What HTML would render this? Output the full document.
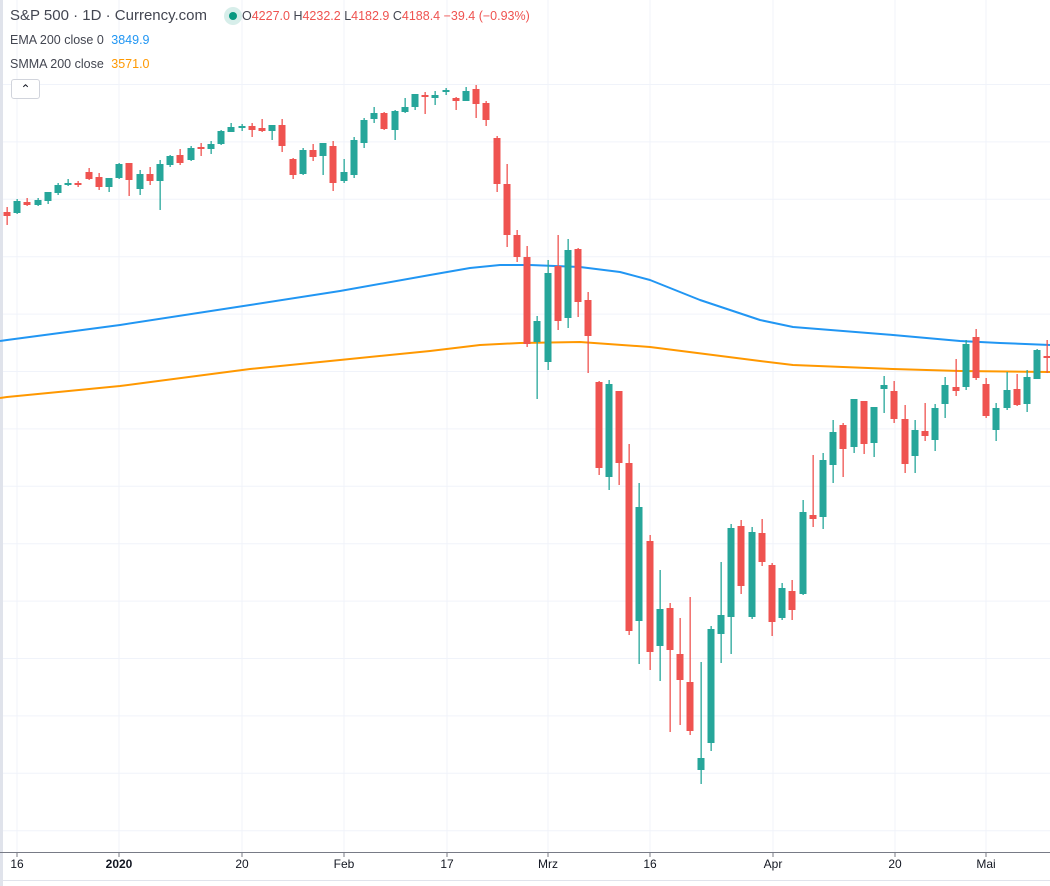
<!DOCTYPE html>
<html><head><meta charset="utf-8">
<style>
html,body{margin:0;padding:0;background:#fff;}
body{width:1050px;height:886px;overflow:hidden;position:relative;font-family:"Liberation Sans",sans-serif;}
svg{position:absolute;left:0;top:0;}
.t{position:absolute;white-space:nowrap;color:#434651;}
</style></head><body>
<svg id="s" width="1050" height="886" xmlns="http://www.w3.org/2000/svg"></svg>
<div class="t" style="left:10px;top:7px;font-size:15px;color:#434651">S&amp;P 500 · 1D · Currency.com</div>
<div style="position:absolute;left:224px;top:7px;width:18px;height:18px;border-radius:50%;background:#d7eeea"></div>
<div style="position:absolute;left:229px;top:12px;width:8px;height:8px;border-radius:50%;background:#089981"></div>
<div class="t" style="left:242px;top:9px;font-size:12.5px;color:#ef5350"><span style="color:#434651">O</span>4227.0 <span style="color:#434651">H</span>4232.2 <span style="color:#434651">L</span>4182.9 <span style="color:#434651">C</span>4188.4 −39.4 (−0.93%)</div>
<div class="t" style="left:10px;top:33px;font-size:12.5px">EMA 200 close 0 <span style="color:#2196f3;margin-left:4px">3849.9</span></div>
<div class="t" style="left:10px;top:57px;font-size:12.5px">SMMA 200 close <span style="color:#ff9800;margin-left:4px">3571.0</span></div>
<div style="position:absolute;left:11px;top:79px;width:27px;height:18px;border:1px solid #d1d4dc;border-radius:3px;background:#fff;text-align:center;font-size:12px;line-height:18px;color:#131722">&#8963;</div>
<script>
var s=document.getElementById('s'),h='';
h+='<rect x="0" y="0" width="3" height="886" fill="#e0e3eb"/>';
for(var y=84.5;y<852;y+=57.4)h+='<line x1="3" x2="1050" y1="'+y.toFixed(1)+'" y2="'+y.toFixed(1)+'" stroke="#f0f3fa" stroke-width="1"/>';
var xs=[17,119,242,344,447,548,650,773,895,986],lb=['16','2020','20','Feb','17','Mrz','16','Apr','20','Mai'];
for(var i=0;i<xs.length;i++){h+='<line x1="'+xs[i]+'" x2="'+xs[i]+'" y1="0" y2="852" stroke="#f0f3fa"/>';
h+='<line x1="'+xs[i]+'" x2="'+xs[i]+'" y1="852" y2="857" stroke="#787b86"/>';
h+='<text x="'+xs[i]+'" y="868" font-size="12" text-anchor="middle" fill="#131722" font-family="Liberation Sans,sans-serif"'+(i==1?' font-weight="bold"':'')+'>'+lb[i]+'</text>';}
h+='<line x1="0" x2="1050" y1="852.5" y2="852.5" stroke="#787b86"/>';
h+='<line x1="0" x2="1050" y1="880.5" y2="880.5" stroke="#e0e3eb"/>';
var ema=[[0,341],[7,340],[120,325],[250,305],[340,291],[430,275],[470,268],[500,265],[530,265],[580,267],[620,272],[650,280],[700,300],[760,320],[793,327],[893,335],[960,341],[1000,343],[1050,345]];
var sm=[[0,398],[7,397],[120,386],[250,369],[340,360],[430,351],[480,345],[520,343],[580,342],[650,347],[713,355],[760,361],[793,365],[893,369],[960,371],[1050,372]];
h+='<polyline fill="none" stroke="#2196f3" stroke-width="2" stroke-linejoin="round" points="'+ema.join(' ')+'"/>';
h+='<polyline fill="none" stroke="#ff9800" stroke-width="2" stroke-linejoin="round" points="'+sm.join(' ')+'"/>';
var d=[[212,216,207,225,0],[201,213,199,214,1],[202,205,198,206,0],[200,205,198,206,1],[192,201,192,204,1],[185,193,183,195,1],[183,185,179,186,1],[183,185,181,187,0],[172,179,168,180,0],[177,187,173,190,0],[178,187,178,192,1],[164,178,163,179,1],[163,180,163,196,0],[174,189,170,195,1],[174,181,167,185,0],[164,181,160,210,1],[156,165,155,167,1],[155,163,149,165,0],[148,160,146,161,1],[147,149,143,156,0],[144,149,141,154,1],[131,144,130,145,1],[127,132,123,132,1],[126,128,124,131,1],[126,130,123,137,0],[128,131,119,132,0],[125,131,125,140,1],[125,146,119,152,0],[159,175,158,179,0],[150,174,148,175,1],[150,157,144,161,0],[143,156,143,175,1],[146,183,141,191,0],[172,181,159,183,1],[140,175,137,178,1],[120,143,118,148,1],[113,119,107,123,1],[113,129,112,130,0],[111,130,110,140,1],[107,112,98,113,1],[94,107,94,110,1],[95,97,92,114,0],[95,98,91,105,1],[90,92,88,95,1],[98,101,97,110,0],[91,101,87,101,1],[89,104,85,118,0],[103,120,101,126,0],[138,184,136,192,0],[184,235,164,247,0],[235,257,230,262,0],[257,344,246,347,0],[321,342,316,399,1],[273,362,260,370,1],[266,321,235,330,0],[250,318,239,328,1],[249,302,248,317,0],[300,336,292,373,0],[382,468,381,475,0],[384,477,380,490,1],[391,463,391,485,0],[463,631,444,635,0],[507,621,483,664,1],[541,652,535,670,0],[609,646,570,681,1],[608,650,603,732,0],[654,680,618,725,0],[682,731,597,735,0],[758,770,662,784,1],[629,743,626,751,1],[615,634,562,663,1],[528,617,524,654,1],[526,586,520,594,0],[532,617,527,619,1],[533,562,519,566,0],[565,622,563,636,0],[588,618,583,620,1],[591,610,580,620,0],[512,594,500,595,1],[515,519,455,527,0],[460,517,453,529,1],[432,465,420,483,1],[425,449,423,477,0],[399,447,399,453,1],[401,444,401,454,0],[407,443,407,457,1],[385,389,376,413,1],[391,419,381,423,0],[419,464,405,473,0],[430,456,420,473,1],[431,436,403,441,0],[408,440,404,451,1],[385,404,377,418,1],[387,391,359,396,0],[344,387,340,390,1],[337,378,329,380,0],[384,416,378,418,0],[408,430,403,441,1],[390,408,372,410,1],[389,405,374,406,0],[377,404,370,412,1],[350,379,349,379,1],[356,358,340,373,0]];
for(var i=0;i<d.length;i++){var c=d[i],x=Math.round(7+i*10.2),col=c[4]?'#26a69a':'#ef5350';
h+='<rect x="'+(x-0.5)+'" y="'+c[2]+'" width="1.3" height="'+(c[3]-c[2])+'" fill="'+col+'"/>';
h+='<rect x="'+(x-3.5)+'" y="'+c[0]+'" width="7" height="'+Math.max(2,c[1]-c[0])+'" fill="'+col+'"/>';}
s.innerHTML=h;
</script>
</body></html>
